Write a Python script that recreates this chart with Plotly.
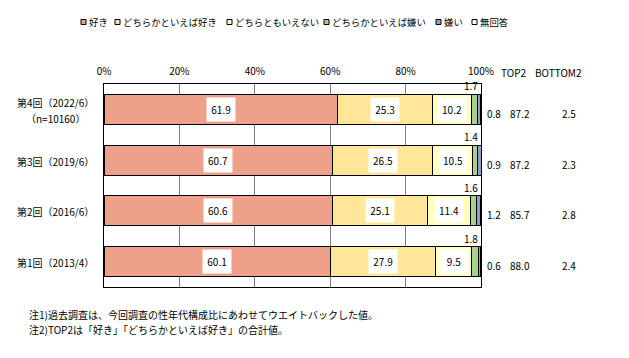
import plotly.graph_objects as go

categories = [["第4回（2022/6）", "（n=10160）"], ["第3回（2019/6）"], ["第2回（2016/6）"], ["第1回（2013/4）"]]
series_names = ["好き", "どちらかといえば好き", "どちらともいえない", "どちらかといえば嫌い", "嫌い", "無回答"]
like = [61.9, 60.7, 60.6, 60.1]
somewhat_like = [25.3, 26.5, 25.1, 27.9]
neutral = [10.2, 10.5, 11.4, 9.5]
somewhat_dislike = [1.7, 1.4, 1.6, 1.8]
dislike = [0.8, 0.9, 1.2, 0.6]
no_answer = [0.1, 0.0, 0.1, 0.1]
top2 = ["87.2", "87.2", "85.7", "88.0"]
bottom2 = ["2.5", "2.3", "2.8", "2.4"]
tick_vals = [0, 20, 40, 60, 80, 100]
tick_text = ["0%", "20%", "40%", "60%", "80%", "100%"]
notes = ["注1)過去調査は、今回調査の性年代構成比にあわせてウエイトバックした値。",
         "注2)TOP2は「好き」「どちらかといえば好き」の合計値。"]

colors = ["#EDA08A", "#FFE699", "#FFFFC0", "#A9D18E", "#8FA0C8", "#FFFFFF"]
series = [like, somewhat_like, neutral, somewhat_dislike, dislike, no_answer]

FONT = "Noto Sans CJK JP"
W, H = 629, 358
L, R, T, B = 104, 148, 84, 71
PW, PH = W - L - R, H - T - B


def px(xp):
    return (xp - L) / PW


def py(yp):
    return (H - B - yp) / PH


yidx = list(range(len(categories)))

fig = go.Figure()
for name, vals, col in zip(series_names, series, colors):
    fig.add_trace(go.Bar(
        y=yidx, x=vals, name=name, orientation="h",
        marker=dict(color=col, line=dict(color="black", width=1)),
        width=0.59, hoverinfo="x+name", showlegend=False,
    ))

f10 = dict(size=10, color="black", family=FONT)
ann = []
shapes = []
for i in yidx:
    cum = 0
    for vals in series[:3]:
        v = vals[i]
        ann.append(dict(x=cum + v / 2, y=i, xref="x", yref="y", text=f"{v:.1f}",
                        showarrow=False, bgcolor="white", width=26, height=21, font=f10))
        cum += v
    ann.append(dict(x=100, y=i - 0.295, xref="x", yref="y", text=f"{somewhat_dislike[i]:.1f}",
                    showarrow=False, xanchor="right", yanchor="bottom", xshift=-1, yshift=-1,
                    font=f10))
    ann.append(dict(x=1, y=i, xref="paper", yref="y", text=f"{dislike[i]:.1f}",
                    showarrow=False, xanchor="left", xshift=4, yshift=-4, font=f10))
    ann.append(dict(x=px(532), y=i, xref="paper", yref="y", text=top2[i],
                    showarrow=False, yshift=-4, font=f10))
    ann.append(dict(x=px(578), y=i, xref="paper", yref="y", text=bottom2[i],
                    showarrow=False, yshift=-4, font=f10))
    lines = categories[i]
    n = len(lines)
    for j, line in enumerate(lines):
        shift = (n - 1) * 8 - j * 16
        ann.append(dict(x=px(55), y=i, xref="paper", yref="y", text=line,
                        showarrow=False, xanchor="center", yshift=shift - 1, font=f10))

ann.append(dict(x=px(528), y=py(63), xref="paper", yref="paper", text="TOP2",
                showarrow=False, font=f10))
ann.append(dict(x=px(584), y=py(63), xref="paper", yref="paper", text="BOTTOM2",
                showarrow=False, font=f10))
for j, t in enumerate(notes):
    ann.append(dict(x=px(27), y=py(314.5 + j * 14.5), xref="paper", yref="paper", text=t,
                    showarrow=False, xanchor="left", yanchor="middle", align="left", font=f10))

# legend row (custom, single line as in the reference)
legend_x = [81, 115, 227, 324, 436, 472]
for name, col, lx in zip(series_names, colors, legend_x):
    shapes.append(dict(type="rect", xref="paper", yref="paper",
                       x0=px(lx), x1=px(lx + 5), y0=py(24.5), y1=py(19.5),
                       fillcolor=col, line=dict(color="black", width=1)))
    ann.append(dict(x=px(lx + 6), y=py(22), xref="paper", yref="paper", text=name,
                    showarrow=False, xanchor="left", yanchor="middle",
                    font=dict(size=9.4, color="black", family=FONT)))

fig.update_layout(
    width=W, height=H,
    margin=dict(l=L, r=R, t=T, b=B, autoexpand=False),
    barmode="stack",
    plot_bgcolor="white", paper_bgcolor="white",
    font=dict(family=FONT, size=10, color="black"),
    showlegend=False,
    xaxis=dict(side="top", range=[0, 100], tickvals=tick_vals, ticktext=tick_text,
               showgrid=True, gridcolor="#808080", gridwidth=1, zeroline=False,
               showline=True, linecolor="black", linewidth=1, mirror=True, ticks="",
               ticklabelstandoff=4,
               tickfont=f10, fixedrange=True),
    yaxis=dict(range=[len(categories) - 0.5, -0.5], showticklabels=False, ticks="",
               showgrid=False, zeroline=False, showline=True, linecolor="black",
               linewidth=1, mirror=True, fixedrange=True),
    annotations=ann,
    shapes=shapes,
)

fig.write_html("out.html", config={"displayModeBar": False},
               post_script="document.body.style.margin='0';")
